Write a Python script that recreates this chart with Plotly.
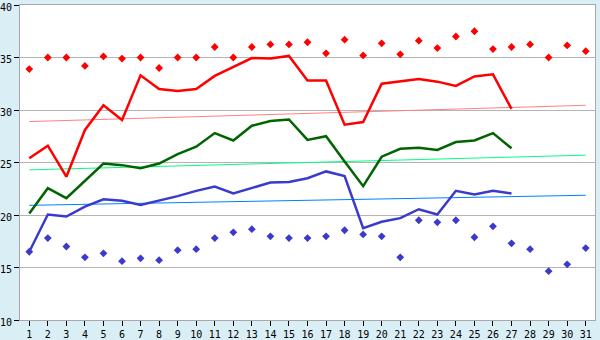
import plotly.graph_objects as go

days = list(range(1, 32))
line_days = list(range(1, 28))

red_line = [25.4, 26.6, 23.65, 28.1, 30.45, 29.05, 33.3, 32.0, 31.8, 32.0,
            33.25, 34.1, 34.95, 34.9, 35.15, 32.8, 32.8, 28.6, 28.85, 32.5,
            32.7, 32.95, 32.7, 32.3, 33.2, 33.4, 30.1]
green_line = [20.15, 22.55, 21.6, 23.25, 24.9, 24.75, 24.45, 24.9, 25.8, 26.5,
              27.8, 27.1, 28.5, 28.95, 29.1, 27.15, 27.5, 25.1, 22.75, 25.55,
              26.3, 26.4, 26.2, 26.95, 27.1, 27.8, 26.35]
blue_line = [16.5, 20.05, 19.85, 20.8, 21.5, 21.35, 20.95, 21.35, 21.8, 22.3,
             22.7, 22.05, 22.55, 23.1, 23.15, 23.5, 24.15, 23.7, 18.75, 19.35,
             19.7, 20.55, 20.05, 22.3, 21.95, 22.3, 22.05]

red_dots = [33.9, 35.0, 35.0, 34.2, 35.1, 34.9, 35.0, 34.0, 35.0, 35.0,
            36.0, 35.0, 36.0, 36.25, 36.25, 36.45, 35.4, 36.7, 35.2, 36.35,
            35.3, 36.6, 35.9, 37.0, 37.5, 35.8, 36.0, 36.25, 35.0, 36.15, 35.6]
blue_dots = [16.5, 17.8, 17.0, 15.97, 16.35, 15.6, 15.87, 15.7, 16.65, 16.75,
             17.8, 18.35, 18.65, 17.97, 17.8, 17.8, 17.97, 18.55, 18.15, 17.97,
             15.97, 19.5, 19.3, 19.5, 17.88, 18.92, 17.3, 16.75, 14.65, 15.3, 16.85]

trend_days = [1, 31]
red_trend = [28.9, 30.45]
green_trend = [24.3, 25.7]
blue_trend = [20.92, 21.88]

y_ticks = [10, 15, 20, 25, 30, 35, 40]

fig = go.Figure()

fig.add_trace(go.Scatter(x=trend_days, y=red_trend, mode="lines",
                         line=dict(color="#ff8080", width=1)))
fig.add_trace(go.Scatter(x=trend_days, y=green_trend, mode="lines",
                         line=dict(color="#00ff80", width=1)))
fig.add_trace(go.Scatter(x=trend_days, y=blue_trend, mode="lines",
                         line=dict(color="#0080ff", width=1)))

fig.add_trace(go.Scatter(x=line_days, y=red_line, mode="lines",
                         line=dict(color="#ff0000", width=2.5)))
fig.add_trace(go.Scatter(x=line_days, y=green_line, mode="lines",
                         line=dict(color="#006400", width=2.5)))
fig.add_trace(go.Scatter(x=line_days, y=blue_line, mode="lines",
                         line=dict(color="#3a3acc", width=2.5)))

fig.add_trace(go.Scatter(x=days, y=red_dots, mode="markers",
                         marker=dict(symbol="diamond", size=6, color="#ff0000",
                                     line=dict(width=0))))
fig.add_trace(go.Scatter(x=days, y=blue_dots, mode="markers",
                         marker=dict(symbol="diamond", size=6, color="#3a3acc",
                                     line=dict(width=0))))

fig.update_layout(
    width=600, height=340,
    margin=dict(l=20, r=5, t=5, b=20, autoexpand=False),
    paper_bgcolor="#daeef6",
    plot_bgcolor="#ffffff",
    showlegend=False,
    font=dict(family="DejaVu Sans Mono", size=10, color="#000000"),
    xaxis=dict(range=[0.5, 31.5], tickmode="array", tickvals=days,
               ticktext=[str(d) for d in days],
               showgrid=False, zeroline=False, automargin=False,
               showline=True, linecolor="#a8a8a8", linewidth=1, mirror=True,
               ticks="outside", ticklen=5, tickcolor="#000000",
               tickfont=dict(size=10)),
    yaxis=dict(range=[10, 40], tickmode="array", tickvals=y_ticks,
               showgrid=True, gridcolor="#b4b4b4", gridwidth=1,
               zeroline=False, automargin=False, ticklabeloverflow="allow",
               ticklabelshift=2,
               showline=True, linecolor="#a8a8a8", linewidth=1, mirror=True,
               ticks="outside", ticklen=5, tickcolor="#000000",
               tickfont=dict(size=10)),
)

fig.write_html("out.html")
